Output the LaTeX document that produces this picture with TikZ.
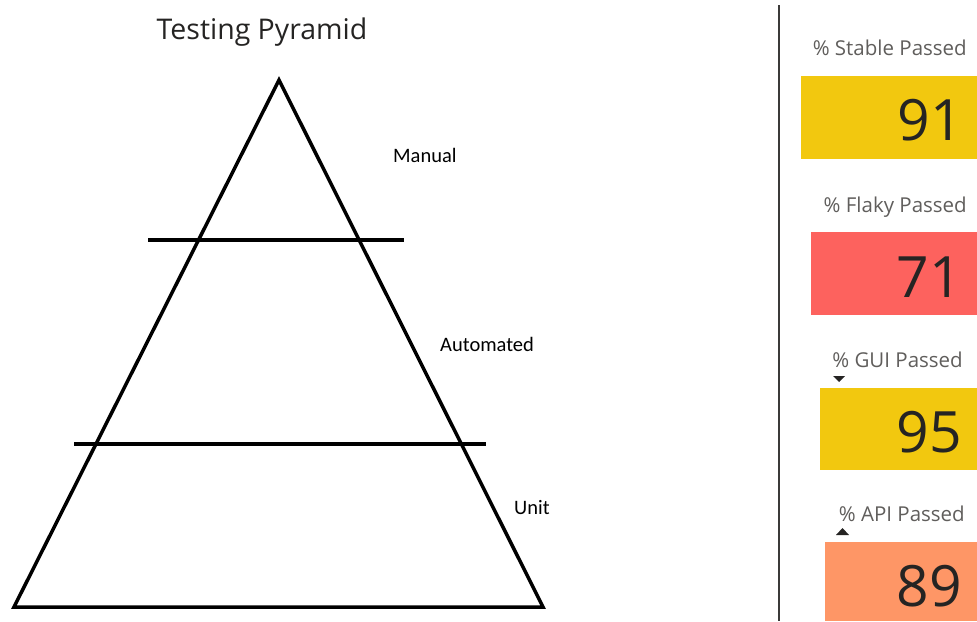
\documentclass[tikz,border=0pt]{standalone}
\usepackage{fontspec}
\setmainfont{Open Sans}
\newfontfamily\calibrifont{Carlito}
\usetikzlibrary{positioning}

\definecolor{cardyellow}{HTML}{F2C80F}
\definecolor{cardred}{HTML}{FD625E}
\definecolor{cardorange}{HTML}{FE9666}
\definecolor{labelgray}{HTML}{605E5C}
\definecolor{valuegray}{HTML}{252423}
\definecolor{rulegray}{HTML}{3B3A39}

\begin{document}
\begin{tikzpicture}[x=1pt,y=-1pt,
    cardlabel/.style={text=labelgray,inner sep=0pt,anchor=base east,
      font=\fontsize{20.5}{22}\selectfont},
    cardvalue/.style={text=valuegray,inner sep=0pt,anchor=east,
      font=\fontsize{57}{60}\selectfont},
    layer/.style={inner sep=0pt,anchor=base west,
      font=\calibrifont\fontsize{20.5}{22}\selectfont},
    pyr/.style={line width=3.5pt}]
        \useasboundingbox (0,0) rectangle (977,621);

        % Titulo
        \node (title) [inner sep=0pt,anchor=base,text=valuegray,
          font=\fontsize{28.5}{30}\selectfont] at (262,39) {Testing Pyramid};

        % Piramide
        \coordinate (apex) at (279,80);
        \coordinate (bl) at (14,607);
        \coordinate (br) at (543,607);
        \draw[pyr,line join=miter] (apex) -- (br) -- (bl) -- cycle;

        % Divisoes
        \coordinate (d1l) at (148,240);
        \coordinate (d1r) at (404,240);
        \coordinate (d2l) at (74,444);
        \coordinate (d2r) at (486,444);
        \draw[pyr] (d1l) -- (d1r);
        \draw[pyr] (d2l) -- (d2r);

        % Camadas
        \node (manual) [layer] at (393,162) {Manual};
        \node (automated) [layer] at (440,351) {Automated};
        \node (unit) [layer] at (514,514) {Unit};

        % Separador
        \coordinate (sepT) at (779,5);
        \coordinate (sepB) at (779,621);
        \draw[rulegray,line width=2pt] (sepT) -- (sepB);

        % Cartoes
        \fill[cardyellow] (801,76) rectangle (977,159);
        \fill[cardred] (811,232) rectangle (977,315);
        \fill[cardyellow] (820,388) rectangle (977,470);
        \fill[cardorange] (825,542) rectangle (977,621);

        \node (stableL) [cardlabel] at (967,55) {\% Stable Passed};
        \node (flakyL) [cardlabel] at (967,212) {\% Flaky Passed};
        \node (guiL) [cardlabel] at (963,367) {\% GUI Passed};
        \node (apiL) [cardlabel] at (965,521) {\% API Passed};

        \node (stableV) [cardvalue] at (963,120) {91};
        \node (flakyV) [cardvalue] at (962,277) {71};
        \node (guiV) [cardvalue] at (962,432) {95};
        \node (apiV) [cardvalue] at (962,586) {89};

        % Setas de ordenacao
        \fill[valuegray] (833,376) -- (845,376) -- (839,382) -- cycle;
        \fill[valuegray] (836,535) -- (849,535) -- (842.5,528) -- cycle;
\end{tikzpicture}
\end{document}
